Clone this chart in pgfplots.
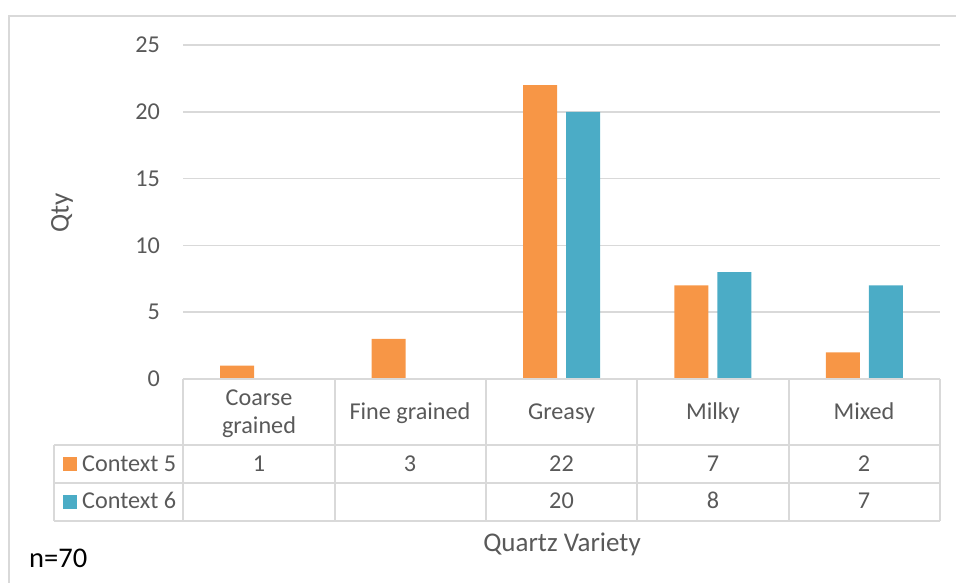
\documentclass[border=0pt]{standalone}
\usepackage{fontspec}
\setmainfont{Carlito}
\usepackage{pgfplots}
\pgfplotsset{compat=1.18}
\definecolor{cfive}{HTML}{F79646}
\definecolor{csix}{HTML}{4BACC6}
\definecolor{gridc}{HTML}{D9D9D9}
\definecolor{txt}{HTML}{595959}
\newcommand{\fs}{\fontsize{24.2bp}{29bp}\selectfont}
\newcommand{\ft}{\fontsize{27bp}{32bp}\selectfont}
\begin{document}
\begin{tikzpicture}[x=1bp,y=1bp]
\useasboundingbox (0,0) rectangle (956,583);
\draw[gridc, line width=1.5bp] (9,0) -- (9,567) -- (956,567);
\begin{axis}[at={(183bp,204bp)}, anchor=south west, scale only axis,
  width=757bp, height=334bp, xmin=-0.5, xmax=4.5, ymin=0, ymax=25,
  ytick={0,5,...,25}, xtick=\empty, ymajorgrids,
  grid style={gridc, line width=1.5bp}, axis line style={draw=none},
  major tick length=0pt, ybar, bar width=34bp,
  /pgf/number format/assume math mode=true,
  yticklabel style={inner sep=0pt, xshift=-23bp, font=\fs, text=txt},
  clip=false]
\addplot[fill=cfive, draw=none, bar shift=-21.5bp] coordinates {(0,1) (1,3) (2,22) (3,7) (4,2)};
\addplot[fill=csix, draw=none, bar shift=21.5bp] coordinates {(2,20) (3,8) (4,7)};
\end{axis}
% data table
\begin{scope}[gridc, line width=1.5bp]
\draw (183,204) -- (940,204);
\draw (54,138) -- (940,138);
\draw (54,100) -- (940,100);
\draw (54,62) -- (940,62);
\foreach \x in {183,335,486,637,789,940} \draw (\x,204) -- (\x,62);
\draw (54,138) -- (54,62);
\end{scope}
\begin{scope}[every node/.style={font=\fs, text=txt, inner sep=0pt, anchor=base}]
\node at (259,177) {Coarse};
\node at (259,149.5) {grained};
\node at (410,163.5) {Fine grained};
\node at (561.5,163.5) {Greasy};
\node at (713,163.5) {Milky};
\node at (864,163.5) {Mixed};
\node at (259,111.5) {1};
\node at (410,111.5) {3};
\node at (561.5,111.5) {22};
\node at (713,111.5) {7};
\node at (864,111.5) {2};
\node at (561.5,74) {20};
\node at (713,74) {8};
\node at (864,74) {7};
\node[anchor=base west] at (82,111.5) {Context 5};
\node[anchor=base west] at (82,74) {Context 6};
\end{scope}
\fill[cfive] (63,112) rectangle (77,126);
\fill[csix] (63,74) rectangle (77,88);
\node[font=\ft, text=txt, rotate=90, inner sep=0pt] at (62,370) {Qty};
\node[font=\ft, text=txt, inner sep=0pt, anchor=base] at (562,31.5) {Quartz Variety};
\node[font=\fontsize{28.5bp}{34bp}\selectfont, text=black, inner sep=0pt, anchor=base west] at (29,15) {n=70};
\end{tikzpicture}
\end{document}
